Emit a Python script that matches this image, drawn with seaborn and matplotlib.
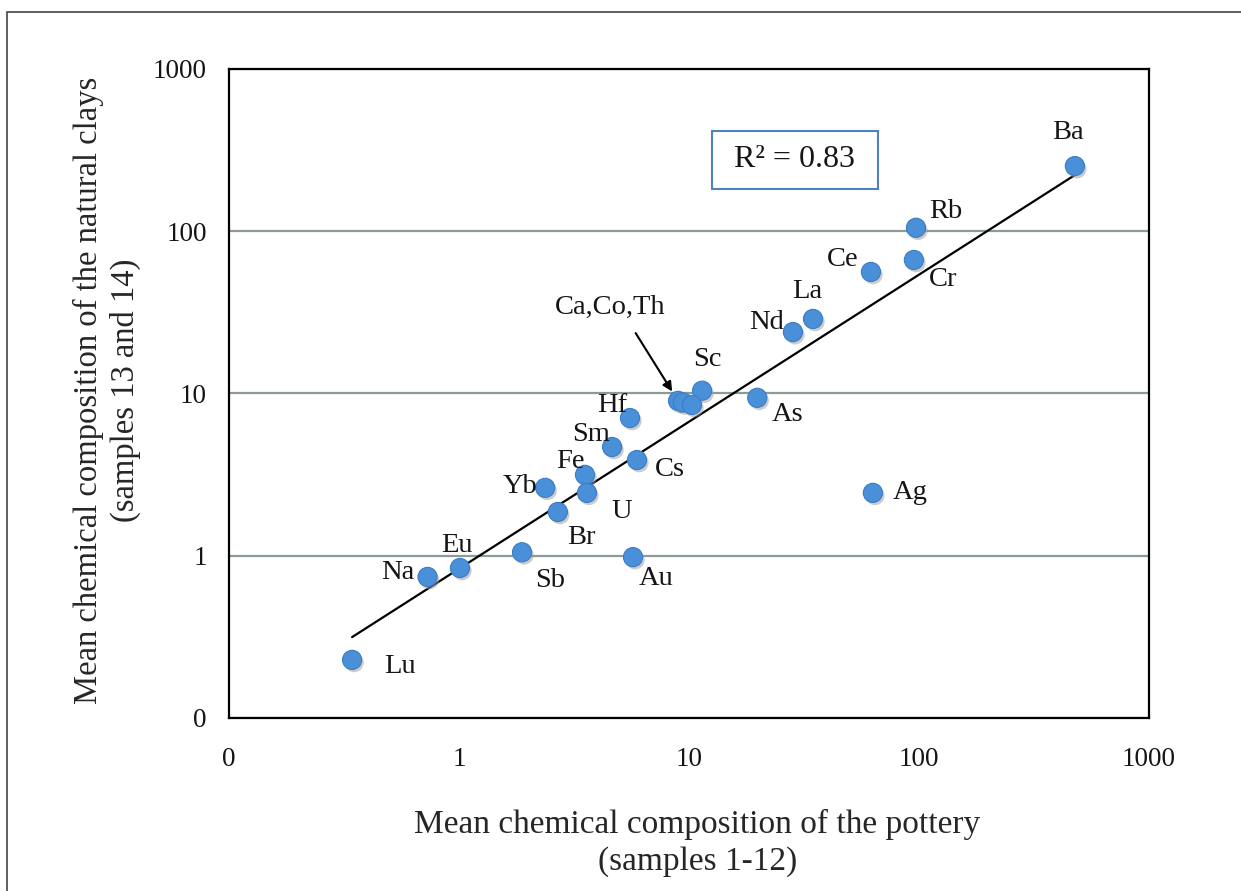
import matplotlib
matplotlib.use('Agg')
import matplotlib.pyplot as plt
import matplotlib.patheffects as pe
from matplotlib.patches import Rectangle
import seaborn as sns

# element names and mean concentrations
elements = ['Ba', 'Rb', 'Cr', 'Ce', 'La', 'Nd', 'Sc', 'Ca', 'Th', 'Co', 'As',
            'Hf', 'Sm', 'Cs', 'Fe', 'U', 'Yb', 'Br', 'Ag', 'Sb', 'Au', 'Eu', 'Na', 'Lu']
pottery = [476, 97, 95, 61.8, 34.6, 28.3, 11.4, 8.96, 9.4, 10.3, 19.8,
           5.54, 4.63, 5.94, 3.53, 3.6, 2.37, 2.69, 63, 1.88, 5.71, 1.01, 0.73, 0.343]
clays = [252, 105, 66.5, 56.1, 28.8, 23.9, 10.4, 9.0, 8.8, 8.5, 9.4,
         7.06, 4.68, 3.89, 3.15, 2.44, 2.62, 1.86, 2.44, 1.05, 0.98, 0.84, 0.74, 0.228]

# fitted trend line (power law, straight in log-log)
trend_x = [0.343, 476]
trend_y = [0.315, 222]
r2_text = 'R² = 0.83'

tick_vals = [0.1, 1, 10, 100, 1000]
tick_labels = ['0', '1', '10', '100', '1000']

# label offsets in pixels (dx, dy) from each point
label_offsets = {
    'Ba': (-7, 34), 'Rb': (30, 16), 'Cr': (29, -20), 'Ce': (-28, 12),
    'La': (-6, 27), 'Nd': (-26, 10), 'Sc': (5, 31), 'As': (30, -17),
    'Hf': (-18, 12), 'Sm': (-21, 12), 'Cs': (33, -10), 'Fe': (-15, 13),
    'Yb': (-25, 1), 'U': (35, -19), 'Br': (24, -26), 'Eu': (-3, 23),
    'Na': (-30, 4), 'Sb': (28, -28), 'Au': (23, -21), 'Ag': (37, 0),
    'Lu': (48, -7),
}

sns.set_style('white')
plt.rcParams['font.family'] = ['Liberation Serif', 'DejaVu Serif']
plt.rcParams['text.color'] = '#151515'

fig = plt.figure(figsize=(12.41, 8.91), dpi=100)
ax = fig.add_axes([0.1845, 0.1942, 0.7414, 0.7284])
ax.set_xscale('log')
ax.set_yscale('log')

ax.set_axisbelow(True)
ax.grid(axis='y', color='#8d9a9a', lw=1.6)
ax.grid(axis='x', visible=False)

sns.lineplot(x=trend_x, y=trend_y, color='black', lw=1.6, ax=ax, zorder=2)
sns.scatterplot(x=pottery, y=clays, s=190, color='#4a90d9', edgecolor='#3a7cc6',
                linewidth=0.8, ax=ax, zorder=3)
ax.collections[-1].set_path_effects([
    pe.withSimplePatchShadow(offset=(1.5, -2), shadow_rgbFace='#9a9a9a', alpha=0.5)])

for name, x, y in zip(elements, pottery, clays):
    if name in label_offsets:
        ax.annotate(name, (x, y), xytext=label_offsets[name], textcoords='offset pixels',
                    ha='center', va='center', fontsize=20.5)

ca = elements.index('Ca')
ax.annotate('Ca,Co,Th', (pottery[ca], clays[ca]), xytext=(-68, 93), textcoords='offset pixels',
            ha='center', va='center', fontsize=20.5,
            arrowprops=dict(arrowstyle='-|>', color='black', lw=1.5, mutation_scale=14,
                            relpos=(0.66, 0), shrinkA=8, shrinkB=8))

ax.set_xlim(0.1, 1000)
ax.set_ylim(0.1, 1000)
ax.set_xticks(tick_vals, labels=tick_labels)
ax.set_yticks(tick_vals, labels=tick_labels)
ax.minorticks_off()
ax.tick_params(axis='both', which='major', direction='out', length=6, width=1.5,
               color='black', labelsize=19.5, labelcolor='#151515')
ax.tick_params(axis='x', pad=15)
ax.tick_params(axis='y', pad=10)
for sp in ax.spines.values():
    sp.set_color('black')
    sp.set_linewidth(1.6)

ax.add_patch(Rectangle((0.525, 0.8151), 0.1804, 0.0894, transform=ax.transAxes,
                       facecolor='white', edgecolor='#4f81bd', lw=1.5, zorder=4))
ax.text(0.615, 0.860, r2_text, transform=ax.transAxes, ha='center', va='center',
        fontsize=23, zorder=5)

ax.set_xlabel('Mean chemical composition of the pottery\n(samples 1-12)',
              fontsize=24, linespacing=1.25)
ax.xaxis.set_label_coords(0.509, -0.140)
ax.set_ylabel('Mean chemical composition of the natural clays\n(samples 13 and 14)',
              fontsize=23.5, linespacing=1.25)
ax.yaxis.set_label_coords(-0.0957, 0.505)

# thin page frame
fig.add_artist(Rectangle((7 / 1241, -0.05), 1.1, 1 - 12 / 891 + 0.05, transform=fig.transFigure,
                         fill=False, edgecolor='#444444', lw=1.2))

fig.savefig('out.png', dpi=100)
